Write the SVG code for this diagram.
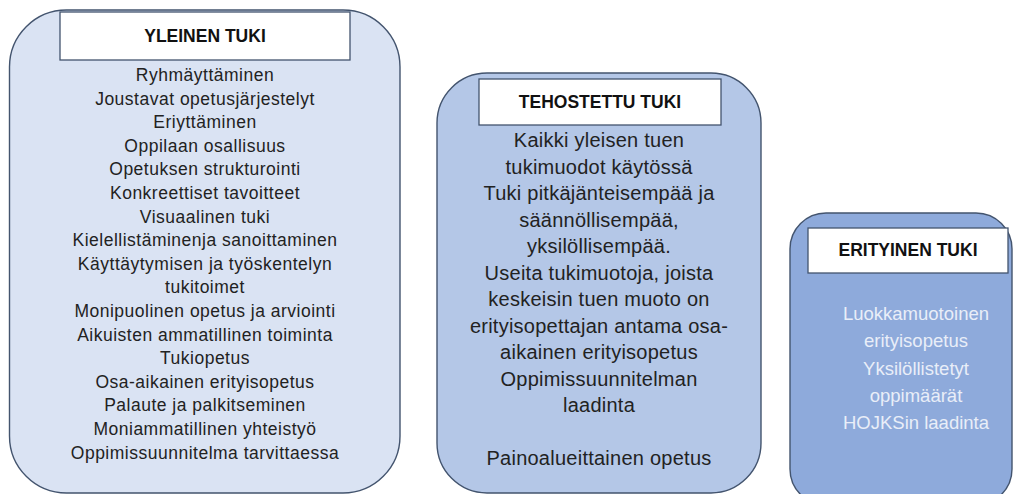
<svg xmlns="http://www.w3.org/2000/svg" width="1016" height="494" viewBox="0 0 1016 494">
<style>
.panel{stroke:#43546e;stroke-width:1.4}
.title-box{fill:#ffffff;stroke:#43546e;stroke-width:1.3}
.title{font-family:"Liberation Sans",Arial,sans-serif;font-weight:bold;font-size:17.5px;fill:#111;text-anchor:middle}
.t1{font-family:"Liberation Sans",Arial,sans-serif;font-size:17.5px;letter-spacing:0.5px;fill:#222;text-anchor:middle}
.t2{font-family:"Liberation Sans",Arial,sans-serif;font-size:20px;letter-spacing:0.25px;fill:#222;text-anchor:middle}
.t3{font-family:"Liberation Sans",Arial,sans-serif;font-size:18.5px;fill:#e9eef8;text-anchor:middle}
</style>
<rect width="1016" height="494" fill="#ffffff"/>
<g id="yleinen-tuki">
<rect class="panel" x="9.5" y="10" width="390.5" height="483" rx="57" ry="57" fill="#dae3f3"/>
<rect class="title-box" x="60" y="12" width="290" height="48"/>
<text class="title" x="205" y="42">YLEINEN TUKI</text>
<text class="t1" x="205" y="81">Ryhmäyttäminen</text>
<text class="t1" x="205" y="104.6">Joustavat opetusjärjestelyt</text>
<text class="t1" x="205" y="128.2">Eriyttäminen</text>
<text class="t1" x="205" y="151.8">Oppilaan osallisuus</text>
<text class="t1" x="205" y="175.4">Opetuksen strukturointi</text>
<text class="t1" x="205" y="199">Konkreettiset tavoitteet</text>
<text class="t1" x="205" y="222.6">Visuaalinen tuki</text>
<text class="t1" x="205" y="246.2">Kielellistäminenja sanoittaminen</text>
<text class="t1" x="205" y="269.8">Käyttäytymisen ja työskentelyn</text>
<text class="t1" x="205" y="293.4">tukitoimet</text>
<text class="t1" x="205" y="317">Monipuolinen opetus ja arviointi</text>
<text class="t1" x="205" y="340.6">Aikuisten ammatillinen toiminta</text>
<text class="t1" x="205" y="364.2">Tukiopetus</text>
<text class="t1" x="205" y="387.8">Osa-aikainen erityisopetus</text>
<text class="t1" x="205" y="411.4">Palaute ja palkitseminen</text>
<text class="t1" x="205" y="435">Moniammatillinen yhteistyö</text>
<text class="t1" x="205" y="458.6">Oppimissuunnitelma tarvittaessa</text>
</g>
<g id="tehostettu-tuki">
<rect class="panel" x="437" y="73" width="324" height="420" rx="50" ry="50" fill="#b4c7e7"/>
<rect class="title-box" x="479" y="79" width="242" height="46"/>
<text class="title" x="600" y="108">TEHOSTETTU TUKI</text>
<text class="t2" x="599" y="147">Kaikki yleisen tuen</text>
<text class="t2" x="599" y="173.5">tukimuodot käytössä</text>
<text class="t2" x="599" y="200">Tuki pitkäjänteisempää ja</text>
<text class="t2" x="599" y="226.5">säännöllisempää,</text>
<text class="t2" x="599" y="253">yksilöllisempää.</text>
<text class="t2" x="599" y="279.5">Useita tukimuotoja, joista</text>
<text class="t2" x="599" y="306">keskeisin tuen muoto on</text>
<text class="t2" x="599" y="332.5">erityisopettajan antama osa-</text>
<text class="t2" x="599" y="359">aikainen erityisopetus</text>
<text class="t2" x="599" y="385.5">Oppimissuunnitelman</text>
<text class="t2" x="599" y="412">laadinta</text>
<text class="t2" x="599" y="465">Painoalueittainen opetus</text>
</g>
<g id="erityinen-tuki">
<rect class="panel" x="790" y="213" width="222" height="292" rx="36" ry="36" fill="#8eaadb"/>
<rect class="title-box" x="808" y="228" width="200" height="45"/>
<text class="title" x="908" y="256">ERITYINEN TUKI</text>
<text class="t3" x="916" y="320">Luokkamuotoinen</text>
<text class="t3" x="916" y="347">erityisopetus</text>
<text class="t3" x="916" y="375">Yksilöllistetyt</text>
<text class="t3" x="916" y="402">oppimäärät</text>
<text class="t3" x="916" y="429">HOJKSin laadinta</text>
</g>
<g id="connectors"></g>
</svg>
